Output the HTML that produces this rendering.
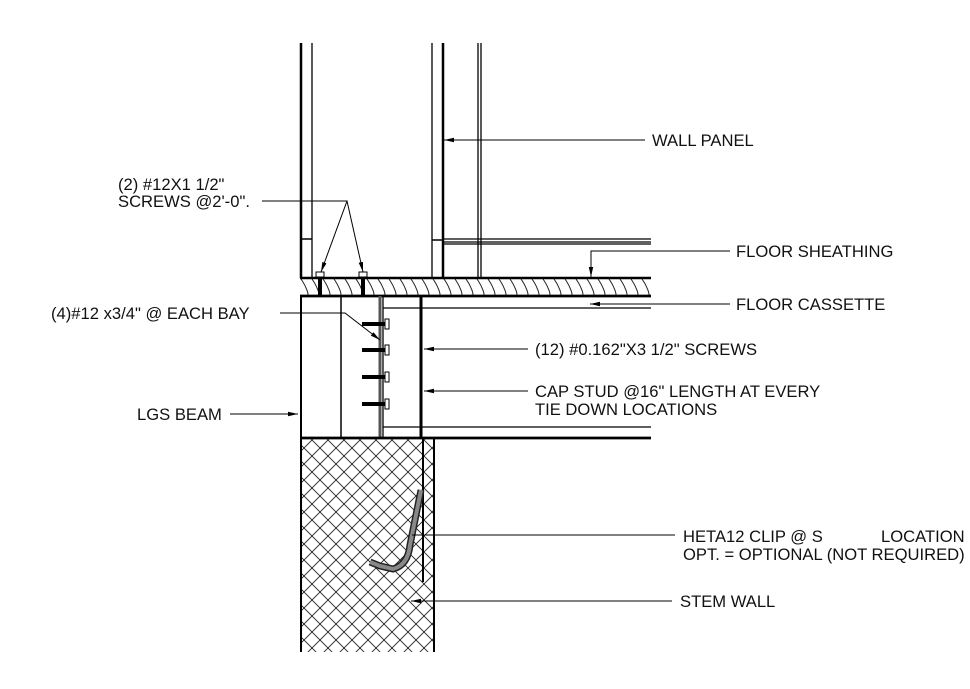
<!DOCTYPE html>
<html><head><style>
body{margin:0;background:#fff;}
svg{display:block;}
text{font-family:"Liberation Sans",Arial,sans-serif;font-size:16.6px;fill:#111;}
</style></head><body>
<svg width="970" height="689" viewBox="0 0 970 689" xmlns="http://www.w3.org/2000/svg">
<defs>
<pattern id="xh" width="16" height="16" patternUnits="userSpaceOnUse">
<path d="M0 0L16 16M16 0L0 16" stroke="#222" stroke-width="0.9"/>
</pattern>
<pattern id="wh" x="300" y="279" width="11" height="16" patternUnits="userSpaceOnUse">
<path d="M1 0 Q5 6 6 9 Q8 13 8 16" stroke="#222" stroke-width="1" fill="none"/>
</pattern>
<marker id="ar" markerWidth="10" markerHeight="6" refX="10" refY="3" orient="auto" markerUnits="userSpaceOnUse">
<path d="M0 0.8L10 3L0 5.2z" fill="#000"/>
</marker>
</defs>
<g stroke="#000" fill="none">
<line x1="301" y1="43" x2="301" y2="278" stroke-width="2.5"/>
<line x1="312" y1="43" x2="312" y2="278" stroke-width="1.3"/>
<line x1="301" y1="239" x2="312" y2="239" stroke-width="1.5"/>
<line x1="432" y1="43" x2="432" y2="278" stroke-width="1.3"/>
<line x1="443" y1="43" x2="443" y2="278" stroke-width="2.5"/>
<line x1="478" y1="43" x2="478" y2="278" stroke-width="1.3"/>
<line x1="481" y1="43" x2="481" y2="278" stroke-width="1.3"/>
<line x1="432" y1="240" x2="443" y2="240" stroke-width="1.5"/>
<line x1="443" y1="239" x2="651" y2="239" stroke-width="1.2"/>
<line x1="443" y1="242" x2="651" y2="242" stroke-width="1.2"/>
<line x1="443" y1="244" x2="651" y2="244" stroke-width="1.2"/>
<rect x="300" y="279" width="351" height="16" fill="url(#wh)" stroke="none"/>
<line x1="300" y1="278" x2="651" y2="278" stroke-width="2.5"/>
<line x1="300" y1="296" x2="651" y2="296" stroke-width="2.8"/>
<line x1="301" y1="296" x2="301" y2="438" stroke-width="2"/>
<line x1="341" y1="296" x2="341" y2="438" stroke-width="1.5"/>
<line x1="380" y1="296" x2="380" y2="438" stroke-width="3" stroke="#555"/>
<line x1="383" y1="296" x2="383" y2="438" stroke-width="1.3"/>
<line x1="421" y1="296" x2="421" y2="438" stroke-width="3"/>
<line x1="383" y1="308" x2="651" y2="308" stroke-width="1.3"/>
<line x1="383" y1="427" x2="651" y2="427" stroke-width="1.3"/>
<line x1="300" y1="438" x2="651" y2="438" stroke-width="2.8"/>
<rect x="301" y="439" width="133" height="213" fill="url(#xh)" stroke="none"/>
<line x1="301" y1="439" x2="301" y2="652" stroke-width="2"/>
<line x1="434" y1="439" x2="434" y2="652" stroke-width="2"/>
<line x1="423" y1="439" x2="423" y2="582" stroke-width="2"/>
<path d="M421 490 L410 545 Q408 565 393 569 L380 566 L370 562" stroke-width="7" stroke="#222"/>
<path d="M421 490 L410 545 Q408 565 393 569 L380 566 L370 562" stroke-width="4" stroke="#888"/>
<g stroke-width="1">
<rect x="316" y="272" width="8" height="5" fill="#fff"/><line x1="320" y1="278" x2="320" y2="297" stroke-width="4"/>
<rect x="359" y="272" width="8" height="5" fill="#fff"/><line x1="363" y1="278" x2="363" y2="297" stroke-width="4"/>
</g>
<g stroke-width="4">
<line x1="362" y1="324" x2="385" y2="324"/><line x1="362" y1="350" x2="385" y2="350"/>
<line x1="362" y1="377" x2="385" y2="377"/><line x1="362" y1="404" x2="385" y2="404"/>
</g>
<g stroke-width="1" fill="#fff">
<rect x="385" y="319" width="4" height="10"/><rect x="385" y="345" width="4" height="10"/>
<rect x="385" y="372" width="4" height="10"/><rect x="385" y="399" width="4" height="10"/>
</g>
<g stroke-width="1">
<line x1="645" y1="140" x2="444" y2="140" marker-end="url(#ar)"/>
<polyline points="730,251 591,251 591,277" marker-end="url(#ar)"/>
<line x1="730" y1="304" x2="590" y2="304" marker-end="url(#ar)"/>
<line x1="528" y1="349" x2="424" y2="349" marker-end="url(#ar)"/>
<line x1="528" y1="391" x2="424" y2="391" marker-end="url(#ar)"/>
<line x1="230" y1="414" x2="298" y2="414" marker-end="url(#ar)"/>
<polyline points="280,313 345,313 380,340" marker-end="url(#ar)"/>
<polyline points="262,201 347,201 321,272" marker-end="url(#ar)"/>
<line x1="347" y1="201" x2="363" y2="272" marker-end="url(#ar)"/>
<line x1="675" y1="535" x2="412" y2="535"/>
<line x1="672" y1="601" x2="411" y2="601" marker-end="url(#ar)"/>
</g>
</g>
<text x="652" y="146">WALL PANEL</text>
<text x="736" y="257">FLOOR SHEATHING</text>
<text x="736" y="310">FLOOR CASSETTE</text>
<text x="118" y="190">(2) #12X1 1/2"</text>
<text x="118" y="207">SCREWS @2'-0".</text>
<text x="51" y="319">(4)#12 x3/4" @ EACH BAY</text>
<text x="535" y="355">(12) #0.162"X3 1/2" SCREWS</text>
<text x="535" y="397">CAP STUD @16" LENGTH AT EVERY</text>
<text x="535" y="415">TIE DOWN LOCATIONS</text>
<text x="137" y="420">LGS BEAM</text>
<text x="683" y="542">HETA12 CLIP @ S</text>
<text x="881" y="542">LOCATION</text>
<text x="683" y="560">OPT. = OPTIONAL (NOT REQUIRED)</text>
<text x="680" y="607">STEM WALL</text>
</svg>
</body></html>
